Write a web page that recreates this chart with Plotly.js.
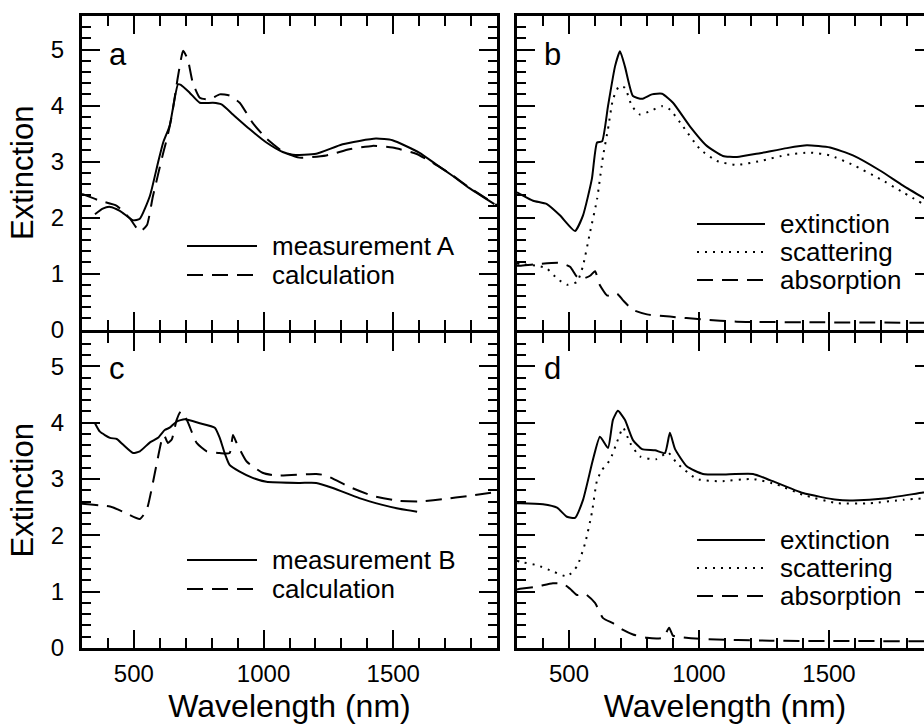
<!DOCTYPE html>
<html>
<head>
<meta charset="utf-8">
<script src="https://cdn.plot.ly/plotly-3.0.1.min.js"></script>
<style>
html,body{margin:0;padding:0;overflow:hidden;background:#fff;}
#chart{width:936px;height:724px;}
</style>
</head>
<body>
<div id="chart"></div>
<script>
// ---------- data (wavelength in nm, extinction values) ----------
const aMeasLam = [350, 380, 408, 446, 497, 523, 562, 593, 613, 638, 670, 681, 715, 754, 805, 838, 882, 946, 1011, 1074, 1113, 1203, 1305, 1433, 1497, 1600, 1665, 1727, 1792, 1890];
const aMeasVal = [2.06, 2.16, 2.19, 2.12, 1.95, 1.98, 2.39, 2.98, 3.34, 3.64, 4.38, 4.37, 4.23, 4.05, 4.05, 4.02, 3.84, 3.58, 3.34, 3.17, 3.12, 3.14, 3.31, 3.41, 3.38, 3.16, 2.95, 2.75, 2.53, 2.24];
const aCalcLam = [300, 369, 434, 485, 523, 550, 573, 615, 627, 646, 670, 690, 708, 727, 754, 792, 831, 869, 908, 958, 1011, 1074, 1138, 1242, 1331, 1420, 1497, 1588, 1652, 1727, 1792, 1900];
const aCalcVal = [2.42, 2.30, 2.21, 1.98, 1.75, 1.86, 2.37, 3.19, 3.40, 3.81, 4.52, 4.98, 4.82, 4.41, 4.14, 4.11, 4.20, 4.18, 4.05, 3.69, 3.41, 3.18, 3.07, 3.11, 3.22, 3.28, 3.25, 3.14, 2.98, 2.76, 2.54, 2.22];

const bExtLam = [300, 312, 362, 415, 465, 523, 554, 588, 608, 627, 650, 677, 696, 715, 746, 781, 819, 858, 900, 965, 1030, 1092, 1146, 1235, 1338, 1415, 1504, 1592, 1696, 1785, 1900];
const bExtVal = [2.45, 2.42, 2.30, 2.24, 2.04, 1.76, 2.04, 2.69, 3.34, 3.36, 3.99, 4.70, 4.97, 4.70, 4.17, 4.12, 4.20, 4.21, 4.05, 3.63, 3.28, 3.10, 3.08, 3.15, 3.24, 3.29, 3.25, 3.11, 2.84, 2.57, 2.25];
const bScatLam = [300, 312, 377, 415, 454, 492, 531, 554, 581, 608, 631, 650, 669, 692, 715, 742, 773, 812, 858, 888, 938, 1004, 1069, 1146, 1235, 1338, 1427, 1504, 1592, 1696, 1785, 1900];
const bScatVal = [1.18, 1.17, 1.14, 1.09, 0.91, 0.80, 0.85, 1.14, 1.74, 2.33, 3.10, 3.58, 4.11, 4.34, 4.32, 3.99, 3.84, 3.90, 3.99, 3.93, 3.63, 3.22, 3.01, 2.94, 3.01, 3.12, 3.16, 3.11, 2.94, 2.69, 2.45, 2.14];
const bAbsLam = [300, 312, 377, 465, 504, 531, 554, 581, 600, 619, 646, 665, 685, 708, 746, 800, 888, 1015, 1146, 1400, 1900];
const bAbsVal = [1.14, 1.14, 1.17, 1.19, 1.12, 0.94, 0.91, 0.96, 1.04, 0.79, 0.61, 0.60, 0.64, 0.52, 0.35, 0.27, 0.23, 0.18, 0.14, 0.13, 0.12];

const cMeasLam = [350, 369, 408, 434, 458, 497, 523, 562, 593, 619, 638, 665, 696, 754, 812, 831, 850, 869, 908, 958, 1011, 1138, 1203, 1267, 1369, 1458, 1523, 1592];
const cMeasVal = [3.99, 3.84, 3.73, 3.71, 3.61, 3.46, 3.49, 3.65, 3.73, 3.87, 3.91, 4.02, 4.06, 3.99, 3.91, 3.73, 3.46, 3.25, 3.13, 3.02, 2.95, 2.93, 2.93, 2.84, 2.66, 2.54, 2.47, 2.42];
const cCalcLam = [300, 408, 458, 523, 550, 581, 608, 617, 631, 646, 665, 681, 704, 742, 781, 831, 869, 882, 896, 935, 996, 1046, 1203, 1242, 1331, 1420, 1523, 1600, 1689, 1792, 1900];
const cCalcVal = [2.56, 2.51, 2.42, 2.29, 2.46, 3.11, 3.70, 3.77, 3.64, 3.70, 4.05, 4.20, 4.05, 3.64, 3.49, 3.46, 3.46, 3.78, 3.64, 3.31, 3.11, 3.06, 3.09, 3.06, 2.86, 2.70, 2.61, 2.60, 2.64, 2.70, 2.77];

const dExtLam = [300, 312, 400, 454, 492, 523, 554, 592, 619, 650, 669, 688, 715, 746, 781, 831, 869, 888, 908, 954, 1015, 1081, 1208, 1273, 1400, 1531, 1592, 1723, 1862, 1900];
const dExtVal = [2.57, 2.57, 2.55, 2.49, 2.33, 2.31, 2.63, 3.34, 3.75, 3.55, 4.05, 4.21, 4.05, 3.69, 3.53, 3.51, 3.46, 3.82, 3.53, 3.22, 3.09, 3.08, 3.09, 2.98, 2.75, 2.63, 2.62, 2.66, 2.76, 2.78];
const dScatLam = [300, 312, 377, 438, 492, 531, 562, 588, 608, 627, 658, 685, 708, 735, 773, 835, 881, 915, 992, 1081, 1208, 1300, 1400, 1531, 1658, 1785, 1900];
const dScatVal = [1.55, 1.53, 1.47, 1.36, 1.27, 1.45, 1.86, 2.40, 2.98, 3.16, 3.34, 3.66, 3.91, 3.64, 3.40, 3.35, 3.47, 3.28, 3.00, 2.96, 3.00, 2.90, 2.72, 2.57, 2.57, 2.63, 2.67];
const dAbsLam = [300, 312, 377, 438, 477, 504, 531, 562, 600, 631, 669, 708, 746, 800, 862, 885, 900, 938, 1015, 1273, 1900];
const dAbsVal = [1.04, 1.05, 1.09, 1.15, 1.14, 1.05, 0.94, 0.96, 0.80, 0.53, 0.44, 0.32, 0.24, 0.18, 0.18, 0.36, 0.22, 0.19, 0.16, 0.13, 0.12];

const xTitle = 'Wavelength (nm)';
const yTitle = 'Extinction';
const panelLabels = ['a', 'b', 'c', 'd'];
const legendA = ['measurement A', 'calculation'];
const legendB = ['extinction', 'scattering', 'absorption'];
const legendC = ['measurement B', 'calculation'];
const legendD = ['extinction', 'scattering', 'absorption'];

// ---------- styling / layout ----------
const W = 936, H = 724;
const FONT = 'Liberation Sans, Arial, Helvetica, sans-serif';
const px = x => x / W;
const py = y => 1 - y / H;

const SOLID = {color: '#000', width: 2, dash: 'solid', shape: 'spline', smoothing: 0.5};
const DASH = {color: '#000', width: 2, dash: '16px,9px', shape: 'spline', smoothing: 0.5};
const DOT = {color: '#000', width: 2, dash: '2px,6px', shape: 'spline', smoothing: 0.5};

function tr(x, y, line, xa, ya) {
  return {x: x, y: y, type: 'scatter', mode: 'lines', line: line, xaxis: xa, yaxis: ya, showlegend: false, hoverinfo: 'skip'};
}

const traces = [
  tr(aMeasLam, aMeasVal, SOLID, 'x', 'y'),
  tr(aCalcLam, aCalcVal, DASH, 'x', 'y'),
  tr(bExtLam, bExtVal, SOLID, 'x2', 'y2'),
  tr(bScatLam, bScatVal, DOT, 'x2', 'y2'),
  tr(bAbsLam, bAbsVal, DASH, 'x2', 'y2'),
  tr(cMeasLam, cMeasVal, SOLID, 'x3', 'y3'),
  tr(cCalcLam, cCalcVal, DASH, 'x3', 'y3'),
  tr(dExtLam, dExtVal, SOLID, 'x4', 'y4'),
  tr(dScatLam, dScatVal, DOT, 'x4', 'y4'),
  tr(dAbsLam, dAbsVal, DASH, 'x4', 'y4')
];

const leftDom = [px(82), px(497)];
const rightDom = [px(517), px(933)];
const topDom = [py(329.5), py(16)];
const botDom = [py(648), py(332.5)];

function xax(dom, anchor, showLabels) {
  return {
    domain: dom, anchor: anchor, range: [300, 1900],
    showline: true, linewidth: 3, linecolor: '#000', mirror: 'ticks',
    ticks: 'inside', ticklen: 18, tickwidth: 2, tickcolor: '#000',
    tick0: 0, dtick: 500,
    minor: {dtick: 100, tick0: 0, ticks: 'inside', ticklen: 10, tickwidth: 2, tickcolor: '#000', showgrid: false},
    showgrid: false, zeroline: false,
    showticklabels: showLabels,
    tickfont: {family: FONT, size: 24, color: '#000'},
    ticklabelstandoff: 2,
    title: showLabels ? {text: xTitle, font: {family: FONT, size: 32, color: '#000'}, standoff: 10} : {text: ''}
  };
}
function yax(dom, anchor, showLabels) {
  return {
    domain: dom, anchor: anchor, range: [0, 5.6],
    showline: true, linewidth: 3, linecolor: '#000', mirror: 'ticks',
    ticks: 'inside', ticklen: 18, tickwidth: 2, tickcolor: '#000',
    tick0: 0, dtick: 1,
    minor: {dtick: 0.2, tick0: 0, ticks: 'inside', ticklen: 9, tickwidth: 2, tickcolor: '#000', showgrid: false},
    showgrid: false, zeroline: false,
    showticklabels: showLabels,
    tickfont: {family: FONT, size: 24, color: '#000'},
    ticklabelstandoff: 10,
    title: showLabels ? {text: yTitle, font: {family: FONT, size: 31, color: '#000'}, standoff: 8} : {text: ''}
  };
}

const annotations = [];
const shapes = [];
function label(text, x, y) {
  annotations.push({text: text, xref: 'paper', yref: 'paper', x: px(x), y: py(y), xanchor: 'left', yanchor: 'middle',
    showarrow: false, font: {family: FONT, size: 31, color: '#000'}});
}
function legend(items, dashes, x0, x1, ys) {
  items.forEach((t, i) => {
    shapes.push({type: 'line', xref: 'paper', yref: 'paper', x0: px(x0), x1: px(x1), y0: py(ys[i]), y1: py(ys[i]),
      line: {color: '#000', width: 2, dash: dashes[i]}});
    annotations.push({text: t, xref: 'paper', yref: 'paper', x: px(x1 + 13), y: py(ys[i]), xanchor: 'left', yanchor: 'middle',
      showarrow: false, font: {family: FONT, size: 26, color: '#000'}});
  });
}
label(panelLabels[0], 107, 55);
label(panelLabels[1], 542, 55);
label(panelLabels[2], 107, 368);
label(panelLabels[3], 542, 368);
legend(legendA, ['solid', '16px,9px'], 187, 257, [246, 275]);
legend(legendB, ['solid', '2px,6px', '16px,9px'], 697, 765, [224, 252, 280]);
legend(legendC, ['solid', '16px,9px'], 187, 257, [560, 589]);
legend(legendD, ['solid', '2px,6px', '16px,9px'], 697, 765, [540, 568, 596]);

const layout = {
  width: W, height: H,
  margin: {l: 0, r: 0, t: 0, b: 0, pad: 0},
  paper_bgcolor: '#fff', plot_bgcolor: '#fff',
  showlegend: false,
  xaxis: xax(leftDom, 'y', false),
  yaxis: yax(topDom, 'x', true),
  xaxis2: xax(rightDom, 'y2', false),
  yaxis2: yax(topDom, 'x2', false),
  xaxis3: xax(leftDom, 'y3', true),
  yaxis3: yax(botDom, 'x3', true),
  xaxis4: xax(rightDom, 'y4', true),
  yaxis4: yax(botDom, 'x4', false),
  annotations: annotations,
  shapes: shapes
};

Plotly.newPlot('chart', traces, layout, {displayModeBar: false, staticPlot: true});
</script>
</body>
</html>
